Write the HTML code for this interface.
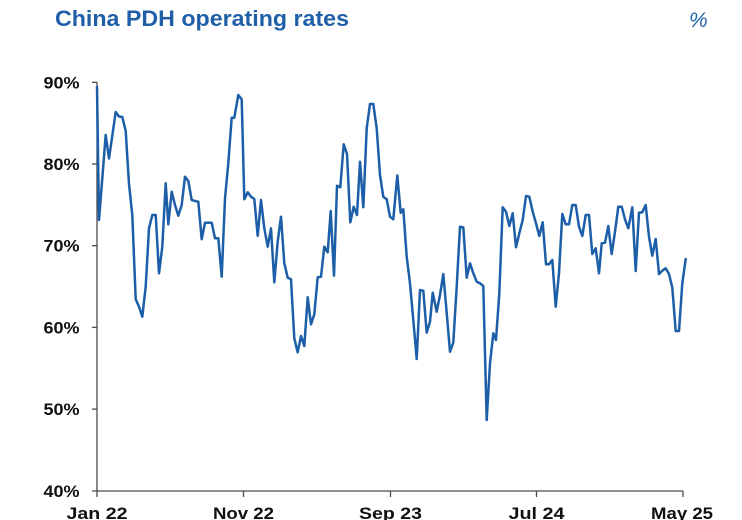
<!DOCTYPE html>
<html>
<head>
<meta charset="utf-8">
<style>
  html, body { margin: 0; padding: 0; background: #ffffff; }
  body { width: 742px; height: 520px; overflow: hidden; }
  svg { display: block; }
  .lbl { font-family: "Liberation Sans", "DejaVu Sans", sans-serif; font-weight: bold; font-size: 16.5px; fill: #111; }
</style>
</head>
<body>
<svg width="742" height="520" viewBox="0 0 742 520" xmlns="http://www.w3.org/2000/svg">
  <!-- Title -->
  <text x="55" y="26" font-family="'Liberation Sans', 'DejaVu Sans', sans-serif" font-weight="bold" font-size="22" fill="#1f5fa8" textLength="294" lengthAdjust="spacingAndGlyphs">China PDH operating rates</text>
  <text x="689" y="27" font-family="'Liberation Sans', 'DejaVu Sans', sans-serif" font-style="italic" font-size="21" fill="#1f5fa8">%</text>

  <!-- Axes -->
  <g stroke="#4a4a4a" stroke-width="1.3" fill="none">
    <line x1="97" y1="82" x2="97" y2="497"/>
    <line x1="92" y1="491" x2="683" y2="491"/>
    <!-- y ticks -->
    <line x1="92" y1="82.3" x2="97" y2="82.3"/>
    <line x1="92" y1="164" x2="97" y2="164"/>
    <line x1="92" y1="245.7" x2="97" y2="245.7"/>
    <line x1="92" y1="327.4" x2="97" y2="327.4"/>
    <line x1="92" y1="409.1" x2="97" y2="409.1"/>
    <!-- x ticks -->
    <line x1="243.5" y1="491" x2="243.5" y2="497"/>
    <line x1="390.5" y1="491" x2="390.5" y2="497"/>
    <line x1="536.5" y1="491" x2="536.5" y2="497"/>
    <line x1="683" y1="491" x2="683" y2="497"/>
  </g>

  <!-- Y labels -->
  <g class="lbl" text-anchor="end">
    <text x="79.5" y="88.3" textLength="36" lengthAdjust="spacingAndGlyphs">90%</text>
    <text x="79.5" y="170" textLength="36" lengthAdjust="spacingAndGlyphs">80%</text>
    <text x="79.5" y="251.7" textLength="36" lengthAdjust="spacingAndGlyphs">70%</text>
    <text x="79.5" y="333.4" textLength="36" lengthAdjust="spacingAndGlyphs">60%</text>
    <text x="79.5" y="415.1" textLength="36" lengthAdjust="spacingAndGlyphs">50%</text>
    <text x="79.5" y="496.8" textLength="36" lengthAdjust="spacingAndGlyphs">40%</text>
  </g>

  <!-- X labels -->
  <g class="lbl" text-anchor="middle">
    <text x="97" y="519" textLength="61" lengthAdjust="spacingAndGlyphs">Jan 22</text>
    <text x="243.5" y="519" textLength="61" lengthAdjust="spacingAndGlyphs">Nov 22</text>
    <text x="390.5" y="519" textLength="63" lengthAdjust="spacingAndGlyphs">Sep 23</text>
    <text x="536.5" y="519" textLength="56" lengthAdjust="spacingAndGlyphs">Jul 24</text>
    <text x="682" y="519" textLength="62" lengthAdjust="spacingAndGlyphs">May 25</text>
  </g>

  <!-- Series -->
  <polyline fill="none" stroke="#1c5ea7" stroke-width="2.5" stroke-linejoin="round" stroke-linecap="round" points="
97,87 99,220 105.7,135 109,158.5 115.7,112 119,116.5 122.3,117 125.7,131 129,184 132.3,215
135.7,299.3 139,306.7 142.3,316.7 145.7,286.7 149,228.3 152.3,215 155.7,215 159,273.3 162.3,246.7 165.7,183.3
168.3,224.3 171.7,191.7 175,205 178.3,215.7 181.7,205 185,176.7 188.3,181 191.7,200 195,201 198.3,201.7
201.7,239.3 205,222.7 211.7,222.7 215,238.3 218.3,238.3 221.7,276.7 225,198.3 228.3,163.3 231.7,117.7 234.3,117.7
238.3,95 241.7,99.3 244.3,199.3 247.7,192.3 251,196.7 254.3,199 257.7,235.7 261,200 264.3,228.3 267.7,246.7
271,228.3 274.3,282.3 277.7,241.7 281,216.7 284.3,263.3 287.7,277.7 291,279.3 294.3,338.3 297.7,352.3 301,336
304.3,346 307.7,297.3 311,324.3 314.3,314.3 317.7,277.3 321,276.7 324.3,246.7 327.7,252.3 330.7,211 334,275.7
337,185.7 340.3,187.3 343.7,144.3 347,154 350.3,222.3 353.7,206.7 357,215 360,161.7 363.3,207.3 366.7,128.3
370,104 373.3,104 376.7,128.3 380,175 383.3,196.7 386.7,199.3 390,216.7 393.3,219.3 397.3,175.5 400.7,212.7
403.3,209.3 406.7,256.7 410,283.3 413.3,320 416.7,359 420,290 423.3,290.7 426.7,332.7 430,321.7 432.7,292.7
436.7,311.7 440,295 443.3,274 446.7,312.7 450,351.7 453.3,342.7 456.7,286.7 460,226.7 463.3,227.3 466.7,277.7
470,263.3 473.3,273.3 476.7,281.7 480,283.3 483.3,286 486.7,420 490,363.3 493.3,333.3 496,340 499.3,293.3
502.7,207.3 506,211.7 509.3,226 512.7,213.3 516,247.3 519.3,233.3 522.7,220 526,196 529.3,196.7 532.7,211.7
536,223.3 539.3,236 542.7,222.3 546,264.3 549,264.3 552.3,260 555.7,306.7 559,273.3 562.3,214 565.7,224.3
569,224.3 572.3,205 575.7,205 579,226.7 582.3,236 585.7,215 589,215 592.3,254 595.7,248.3 599,273.3
601.7,243.3 605,242.7 608.3,226 611.7,254 615,231.7 618.3,206.7 621.7,206.7 625,219.3 628.3,228.3 632.3,207.3
635.7,271 639,212.7 642.3,212.3 645.7,205 649,236.7 652.3,255.7 655.7,239 659,274 662.3,270.7 665.7,268.3
669,274 672.3,287.7 675.7,331 679,331 682.3,283.3 685.7,259"/>
</svg>
</body>
</html>
